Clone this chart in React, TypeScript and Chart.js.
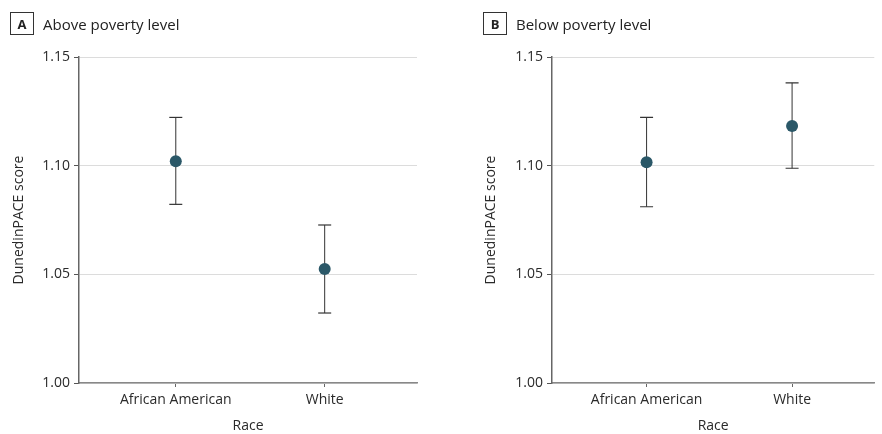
import React, { useEffect, useRef } from "react";
import { Chart, registerables } from "chart.js";

Chart.register(...registerables);

const categories = ["African American", "White"];
const aboveMean = [1.102, 1.0525];
const aboveLow = [1.0822, 1.0322];
const aboveHigh = [1.1222, 1.0727];
const belowMean = [1.1016, 1.1183];
const belowLow = [1.0811, 1.0988];
const belowHigh = [1.1222, 1.1381];
const yTicks = [1.0, 1.05, 1.1, 1.15];

const FONT = "'Open Sans', 'Noto Sans', sans-serif";
const POINT_COLOR = "#2b5868";

type PanelProps = {
  mean: number[];
  low: number[];
  high: number[];
  xMax: number;
  padLeft: number;
  axisWidth: number;
  padRight: number;
};

function Panel({ mean, low, high, xMax, padLeft, axisWidth, padRight }: PanelProps) {
  const ref = useRef<HTMLCanvasElement>(null);
  useEffect(() => {
    if (!ref.current) return;
    const errorSets = categories.map((_, i) => ({
      type: "scatter" as const,
      data: [
        { x: i + 1, y: low[i] },
        { x: i + 1, y: high[i] },
      ],
      showLine: true,
      borderColor: "#333",
      borderWidth: 1,
      pointStyle: "line" as const,
      pointRadius: 6.5,
      pointBorderColor: "#333",
      pointBorderWidth: 1.2,
      order: 2,
    }));
    const chart = new Chart(ref.current, {
      type: "scatter",
      data: {
        datasets: [
          {
            data: categories.map((_, i) => ({ x: i + 1, y: mean[i] })),
            backgroundColor: POINT_COLOR,
            borderColor: POINT_COLOR,
            pointRadius: 6,
            pointBorderWidth: 0,
            order: 0,
          },
          ...errorSets,
        ],
      },
      options: {
        animation: false,
        responsive: false,
        maintainAspectRatio: false,
        layout: { padding: { top: 57, left: padLeft, right: padRight, bottom: 0 } },
        plugins: { legend: { display: false }, tooltip: { enabled: false } },
        scales: {
          x: {
            type: "linear",
            min: 0.35,
            max: xMax,
            afterBuildTicks: (s: any) => {
              s.ticks = categories.map((_, i) => ({ value: i + 1 }));
            },
            afterFit: (s: any) => {
              s.height = 51;
            },
            grid: {
              drawOnChartArea: false,
              drawTicks: true,
              tickLength: 4,
              tickColor: "#666",
            },
            border: { color: "#888", width: 1.5 },
            ticks: {
              autoSkip: false,
              maxRotation: 0,
              padding: 5,
              color: "#2a2a2a",
              font: { family: FONT, size: 14 },
              callback: (v: any) => categories[Math.round(Number(v)) - 1] ?? "",
            },
            title: {
              display: true,
              text: "Race",
              color: "#2a2a2a",
              font: { family: FONT, size: 14 },
              padding: { top: 4, bottom: 0 },
            },
          },
          y: {
            type: "linear",
            min: 1.0,
            max: 1.15,
            afterBuildTicks: (s: any) => {
              s.ticks = yTicks.map((v) => ({ value: v }));
            },
            afterFit: (s: any) => {
              s.width = axisWidth;
            },
            grid: {
              color: "#dcdcdc",
              lineWidth: 1,
              tickLength: 5,
              tickColor: "#555",
            },
            border: { color: "#666", width: 1.5 },
            ticks: {
              padding: 4,
              color: "#2a2a2a",
              font: { family: FONT, size: 14 },
              callback: (v: any) => Number(v).toFixed(2),
            },
            title: {
              display: true,
              text: "DunedinPACE score",
              color: "#2a2a2a",
              font: { family: FONT, size: 14 },
              padding: { top: 11, bottom: 0 },
            },
          },
        },
      },
    } as any);
    return () => chart.destroy();
  }, []);
  return <canvas ref={ref} width={441} height={434} style={{ display: "block", width: 441, height: 434 }} />;
}

function Header({ letter, text, left }: { letter: string; text: string; left: number }) {
  return (
    <div
      style={{
        position: "absolute",
        left,
        top: 12,
        display: "flex",
        alignItems: "center",
        fontFamily: FONT,
        color: "#222",
      }}
    >
      <div
        style={{
          width: 22,
          height: 21,
          border: "1px solid #333",
          display: "flex",
          alignItems: "center",
          justifyContent: "center",
          fontWeight: 700,
          fontSize: 13,
        }}
      >
        {letter}
      </div>
      <div style={{ marginLeft: 9, fontSize: 15 }}>{text}</div>
    </div>
  );
}

export default function App() {
  return (
    <div style={{ position: "fixed", left: 0, top: 0, width: 882, height: 434, background: "#fff" }}>
      <div style={{ position: "absolute", left: 0, top: 0 }}>
        <Panel mean={aboveMean} low={aboveLow} high={aboveHigh} xMax={2.62} padLeft={0} axisWidth={79} padRight={24} />
      </div>
      <div style={{ position: "absolute", left: 441, top: 0 }}>
        <Panel mean={belowMean} low={belowLow} high={belowHigh} xMax={2.565} padLeft={31} axisWidth={80} padRight={0} />
      </div>
      <Header letter="A" text="Above poverty level" left={10} />
      <Header letter="B" text="Below poverty level" left={483} />
    </div>
  );
}
